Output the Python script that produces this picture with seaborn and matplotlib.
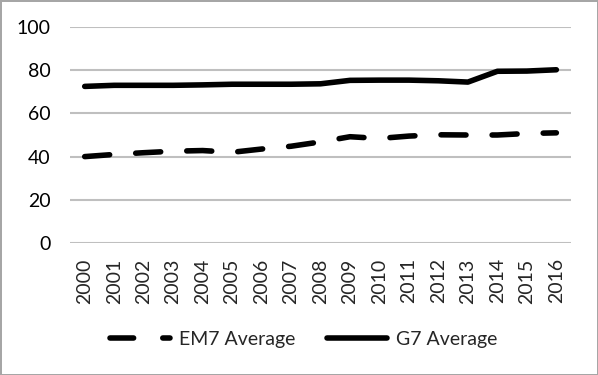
import matplotlib
matplotlib.use("Agg")
import matplotlib.pyplot as plt
import seaborn as sns
import pandas as pd
from matplotlib.lines import Line2D

# values
years = [str(y) for y in range(2000, 2017)]
em7_avg = [40, 41, 41.8, 42.5, 42.8, 42, 43.5, 44.8, 46.8, 49.2, 48.4, 49.5, 50.1, 50, 50, 50.7, 51]
g7_avg = [72.5, 73, 73, 73, 73.2, 73.5, 73.5, 73.5, 73.7, 75.3, 75.4, 75.4, 75.1, 74.5, 79.5, 79.6, 80.2]

sns.set_style("white")
plt.rcParams["font.family"] = ["Lato", "DejaVu Sans"]

df = pd.DataFrame({"Year": years, "EM7 Average": em7_avg, "G7 Average": g7_avg})

fig = plt.figure(figsize=(5.98, 3.75), dpi=100, edgecolor="#a6a6a6", linewidth=2)
ax = fig.add_axes([0.117, 0.352, 0.838, 0.576])

sns.lineplot(data=df, x="Year", y="EM7 Average", color="black", linewidth=4,
             linestyle=(0, (4.5, 4.7)), dash_capstyle="round", sort=False, ax=ax)
sns.lineplot(data=df, x="Year", y="G7 Average", color="black", linewidth=4,
             solid_capstyle="round", sort=False, ax=ax)

ax.set_ylim(0, 100)
ax.set_xlim(-0.5, len(years) - 0.5)
ax.set_yticks(range(0, 101, 20))
ax.yaxis.grid(True, color="#bfbfbf", linewidth=1.5)
ax.set_axisbelow(True)
for s in ax.spines.values():
    s.set_visible(False)
ax.set_xlabel("")
ax.set_ylabel("")
ax.tick_params(axis="y", labelsize=14, length=0, pad=14, labelcolor="#000000")
ax.tick_params(axis="x", labelsize=14, length=0, pad=11, labelrotation=90)

handles = [
    Line2D([], [], color="black", linewidth=4, linestyle=(0, (4.25, 5.25)), dash_capstyle="round"),
    Line2D([], [], color="black", linewidth=4, solid_capstyle="round"),
]
fig.legend(handles, ["EM7 Average", "G7 Average"], loc="center", bbox_to_anchor=(0.5075, 0.096),
           ncol=2, frameon=False, fontsize=14, handlelength=3.1, handletextpad=0.45,
           columnspacing=1.6)

fig.savefig("out.png", dpi=100)
